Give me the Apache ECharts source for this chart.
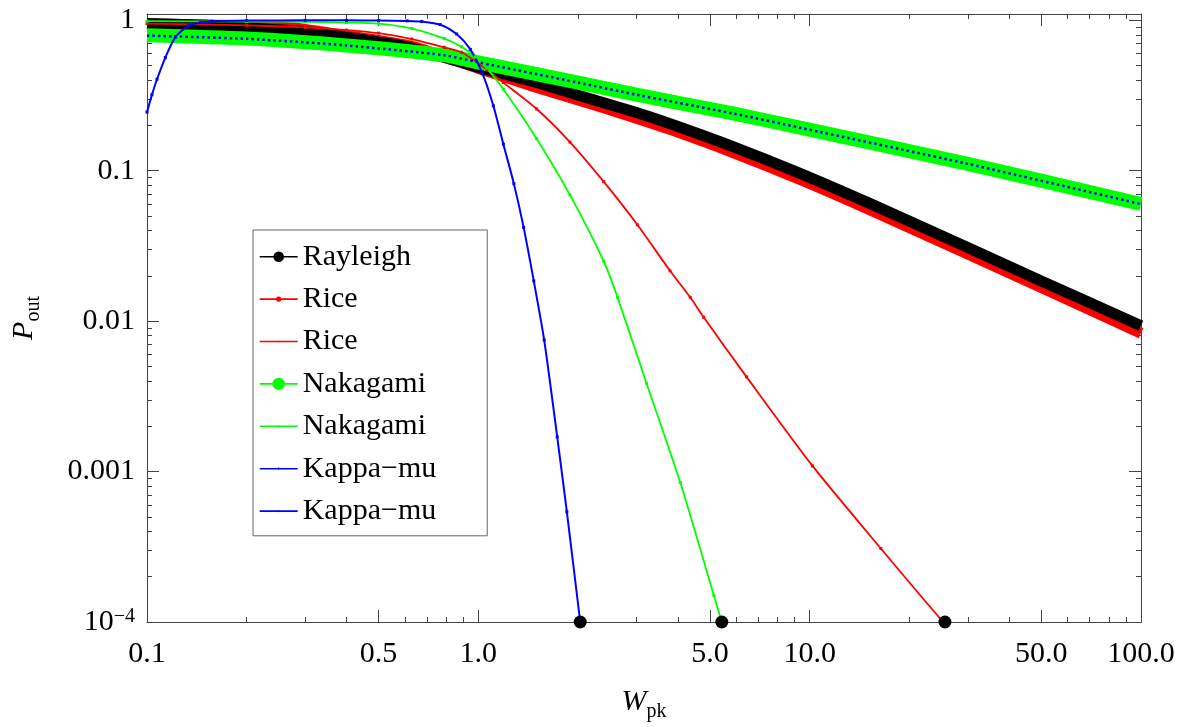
<!DOCTYPE html>
<html><head><meta charset="utf-8">
<script src="https://cdn.jsdelivr.net/npm/echarts@6/dist/echarts.min.js"></script>
<style>html,body{margin:0;padding:0;background:#fff}#c{width:1184px;height:727px}</style>
</head><body><div id="c"></div>
<script>
// ---- axis ticks ----
const xTickValues = [0.1, 0.5, 1, 5, 10, 50, 100];
const xTickLabels = ['0.1', '0.5', '1.0', '5.0', '10.0', '50.0', '100.0'];
const xMinorTicks = [0.2, 0.3, 0.4, 0.6, 0.7, 0.8, 0.9, 2, 3, 4, 6, 7, 8, 9, 20, 30, 40, 60, 70, 80, 90];
const yTickValues = [0.0001, 0.001, 0.01, 0.1, 1];
const yTickLabels = ['10{sup|−4}', '0.001', '0.01', '0.1', '1'];
const yMinorTicks = [0.0002, 0.0003, 0.0004, 0.0005, 0.0006, 0.0007, 0.0008, 0.0009,
  0.002, 0.003, 0.004, 0.005, 0.006, 0.007, 0.008, 0.009,
  0.02, 0.03, 0.04, 0.05, 0.06, 0.07, 0.08, 0.09,
  0.2, 0.3, 0.4, 0.5, 0.6, 0.7, 0.8, 0.9];

// ---- series values ----
const rayleighW = [0.1, 0.15, 0.2, 0.3, 0.4, 0.58, 0.77, 1.0, 1.47, 1.89, 2.95, 3.79, 5.87, 9.35, 15, 30, 50, 100];
const rayleighP = [0.95, 0.925, 0.89, 0.84, 0.77, 0.68, 0.575, 0.486, 0.39, 0.33, 0.246, 0.205, 0.1445, 0.096, 0.0613, 0.0309, 0.0185, 0.0093];

const riceW = [0.1, 0.15, 0.2, 0.28, 0.4, 0.63, 0.8, 1.0, 1.47, 1.89, 2.95, 3.79, 5.87, 9.35, 15, 30, 50, 100];
const riceP = [0.945, 0.93, 0.915, 0.885, 0.79, 0.67, 0.565, 0.48, 0.362, 0.307, 0.226, 0.188, 0.132, 0.0875, 0.0557, 0.0279, 0.0167, 0.0083];

const riceSimW = [0.1, 0.2, 0.3, 0.4, 0.5, 0.63, 0.79, 0.89, 1.06, 1.19, 1.5, 1.89, 2.39, 3.02, 3.79, 4.36, 4.79, 6.45, 10.2, 16.4, 25.0, 25.6];
const riceSimP = [0.95, 0.925, 0.895, 0.86, 0.82, 0.75, 0.66, 0.612, 0.47, 0.385, 0.257, 0.155, 0.0845, 0.0437, 0.0216, 0.0144, 0.0106, 0.00426, 0.00109, 0.000308, 0.000103, 0.0001];

const nakW = [0.1, 0.2, 0.4, 0.79, 1.0, 2.0, 3.0, 5.87, 9.35, 30, 100];
const nakP = [0.795, 0.755, 0.68, 0.585, 0.525, 0.385, 0.32, 0.24, 0.193, 0.111, 0.06];

const nakSimW = [0.1, 0.2, 0.3, 0.4, 0.5, 0.63, 0.79, 0.89, 0.98, 1.06, 1.19, 1.5, 1.89, 2.39, 2.63, 3.22, 4.07, 5.14, 5.43];
const nakSimP = [0.985, 0.98, 0.975, 0.965, 0.948, 0.88, 0.755, 0.666, 0.57, 0.48, 0.348, 0.163, 0.069, 0.025, 0.0144, 0.00385, 0.000845, 0.00015, 0.0001];

const kappaW = [0.1, 0.1035, 0.1072, 0.1136, 0.1217, 0.1335, 0.145, 0.157, 0.2, 0.3, 0.4, 0.5, 0.61, 0.675, 0.767, 0.86, 0.946, 1.03, 1.11, 1.19, 1.28, 1.37, 1.47, 1.58, 1.73, 1.85, 2.03];
const kappaP = [0.245, 0.32, 0.405, 0.565, 0.77, 0.92, 0.965, 0.985, 0.995, 0.998, 0.998, 0.995, 0.99, 0.98, 0.935, 0.81, 0.64, 0.44, 0.27, 0.15, 0.082, 0.042, 0.0185, 0.0075, 0.0017, 0.00054, 0.0001];

const kappa2W = [0.1, 0.2, 0.4, 0.79, 1.0, 2.0, 3.0, 5.87, 9.35, 30, 100];
const kappa2P = [0.79, 0.752, 0.68, 0.585, 0.525, 0.385, 0.32, 0.24, 0.193, 0.111, 0.06];

const endW = [2.03, 5.43, 25.6];
const endP = [0.0001, 0.0001, 0.0001];

// legend
const legendNames = ['Rayleigh', 'Rice#1', 'Rice#2', 'Nakagami#1', 'Nakagami#2', 'Kappa−mu#1', 'Kappa−mu#2'];

function pairs(w, p) { return w.map((v, i) => [v, p[i]]); }
function icon(r) {
  let d = 'path://M0,6.2 L38,6.2 L38,7.8 L0,7.8 Z';
  d += ' M' + (19 - r) + ',7 A' + r + ',' + r + ' 0 1,1 ' + (19 + r) + ',7 A' + r + ',' + r + ' 0 1,1 ' + (19 - r) + ',7 Z';
  return d;
}
const FONT = "'Liberation Serif', 'Times New Roman', serif";
const AX = '#444';

function nearestLabel(values, labels, v) {
  let b = 0;
  values.forEach((t, i) => {
    if (Math.abs(Math.log10(t) - Math.log10(v)) < Math.abs(Math.log10(values[b]) - Math.log10(v))) b = i;
  });
  return labels[b];
}

function xAxis(pos, major, labels) {
  return {
    type: 'log', logBase: 10, min: 0.1, max: 100, position: pos, gridIndex: 0,
    axisLine: { show: major, onZero: false, lineStyle: { color: AX, width: 1 } },
    axisTick: { show: true, inside: true, length: major ? 12 : 5, customValues: major ? xTickValues : xMinorTicks, lineStyle: { color: AX, width: 1 } },
    axisLabel: labels ? {
      show: true, customValues: xTickValues, margin: 17, color: '#000', fontFamily: FONT, fontSize: 30,
      formatter: v => nearestLabel(xTickValues, xTickLabels, v)
    } : { show: false },
    splitLine: { show: false }, minorTick: { show: false }, minorSplitLine: { show: false }
  };
}
function yAxis(pos, major, labels) {
  return {
    type: 'log', logBase: 10, min: 0.0001, max: 1.1, position: pos, gridIndex: 0,
    axisLine: { show: major, onZero: false, lineStyle: { color: AX, width: 1 } },
    axisTick: { show: true, inside: true, length: major ? 12 : 5, customValues: major ? yTickValues : yMinorTicks, lineStyle: { color: AX, width: 1 } },
    axisLabel: labels ? {
      show: true, customValues: yTickValues, margin: 12, color: '#000', fontFamily: FONT, fontSize: 30,
      formatter: v => nearestLabel(yTickValues, yTickLabels, v),
      rich: { sup: { fontFamily: FONT, fontSize: 20, color: '#000', lineHeight: 16, verticalAlign: 'top' } }
    } : { show: false },
    splitLine: { show: false }, minorTick: { show: false }, minorSplitLine: { show: false }
  };
}

const nameRich = {
  i: { fontFamily: FONT, fontSize: 30, fontStyle: 'italic', color: '#000', lineHeight: 40, verticalAlign: 'middle' },
  s: { fontFamily: FONT, fontSize: 20, color: '#000', lineHeight: 24, verticalAlign: 'bottom' }
};
const xAxes = [xAxis('bottom', true, true), xAxis('top', true, false), xAxis('bottom', false, false), xAxis('top', false, false)];
Object.assign(xAxes[0], { name: '{i|W}{s|pk}', nameLocation: 'middle', nameGap: 60, nameTextStyle: { rich: nameRich } });
const yAxes = [yAxis('left', true, true), yAxis('right', true, false), yAxis('left', false, false), yAxis('right', false, false)];
Object.assign(yAxes[0], { name: '{i|P}{s|out}', nameLocation: 'middle', nameGap: 103, nameTextStyle: { rich: nameRich } });

function lineSeries(name, w, p, color, width, extra) {
  return Object.assign({
    name: name, type: 'line', xAxisIndex: 0, yAxisIndex: 0, data: pairs(w, p),
    smooth: 0.25, symbol: 'none',
    itemStyle: { color: color, opacity: 1 }, lineStyle: { color: color, width: width },
    emphasis: { disabled: true }, animation: false
  }, extra || {});
}

const option = {
  animation: false,
  backgroundColor: '#fff',
  textStyle: { fontFamily: FONT },
  grid: { left: 147, right: 43, top: 14, bottom: 99.5, containLabel: false },
  xAxis: xAxes,
  yAxis: yAxes,
  legend: {
    orient: 'vertical', left: 253, top: 230,
    padding: [11.7, 51, 9.7, 6.7], itemGap: 12.4, itemWidth: 38, itemHeight: 14,
    backgroundColor: '#fff', borderColor: '#666', borderWidth: 1,
    selectedMode: false,
    textStyle: { fontFamily: FONT, fontSize: 30, color: '#000', lineHeight: 30 },
    formatter: n => n.split('#')[0],
    data: [
      { name: legendNames[0], icon: icon(5.3) },
      { name: legendNames[1], icon: icon(2.6) },
      { name: legendNames[2], icon: icon(1.1) },
      { name: legendNames[3], icon: icon(6.2) },
      { name: legendNames[4], icon: icon(1.1) },
      { name: legendNames[5], icon: icon(1.1) },
      { name: legendNames[6], icon: icon(1.1) }
    ]
  },
  series: [
    lineSeries(legendNames[1], riceW, riceP, '#ff0000', 11),
    lineSeries(legendNames[0], rayleighW, rayleighP, '#000000', 11),
    lineSeries(legendNames[3], nakW, nakP, '#00ff00', 14),
    lineSeries(legendNames[2], riceSimW, riceSimP, '#ff0000', 1.8, { symbol: 'rect', symbolSize: 3, showSymbol: true }),
    lineSeries(legendNames[4], nakSimW, nakSimP, '#00ff00', 1.8, { symbol: 'rect', symbolSize: 3, showSymbol: true }),
    lineSeries(legendNames[5], kappaW, kappaP, '#0000ff', 2, { symbol: 'rect', symbolSize: 3, showSymbol: true }),
    lineSeries(legendNames[6], kappa2W, kappa2P, '#0000ff', 2.5, { lineStyle: { color: '#0000ff', width: 2.5, type: [2.5, 3] } }),
    { name: 'ends', type: 'scatter', xAxisIndex: 0, yAxisIndex: 0, data: pairs(endW, endP),
      symbol: 'circle', symbolSize: 13, itemStyle: { color: '#000', opacity: 1 }, clip: false, z: 5, animation: false }
  ]
};
const chart = echarts.init(document.getElementById('c'), null, { renderer: 'canvas' });
chart.setOption(option);
</script></body></html>
